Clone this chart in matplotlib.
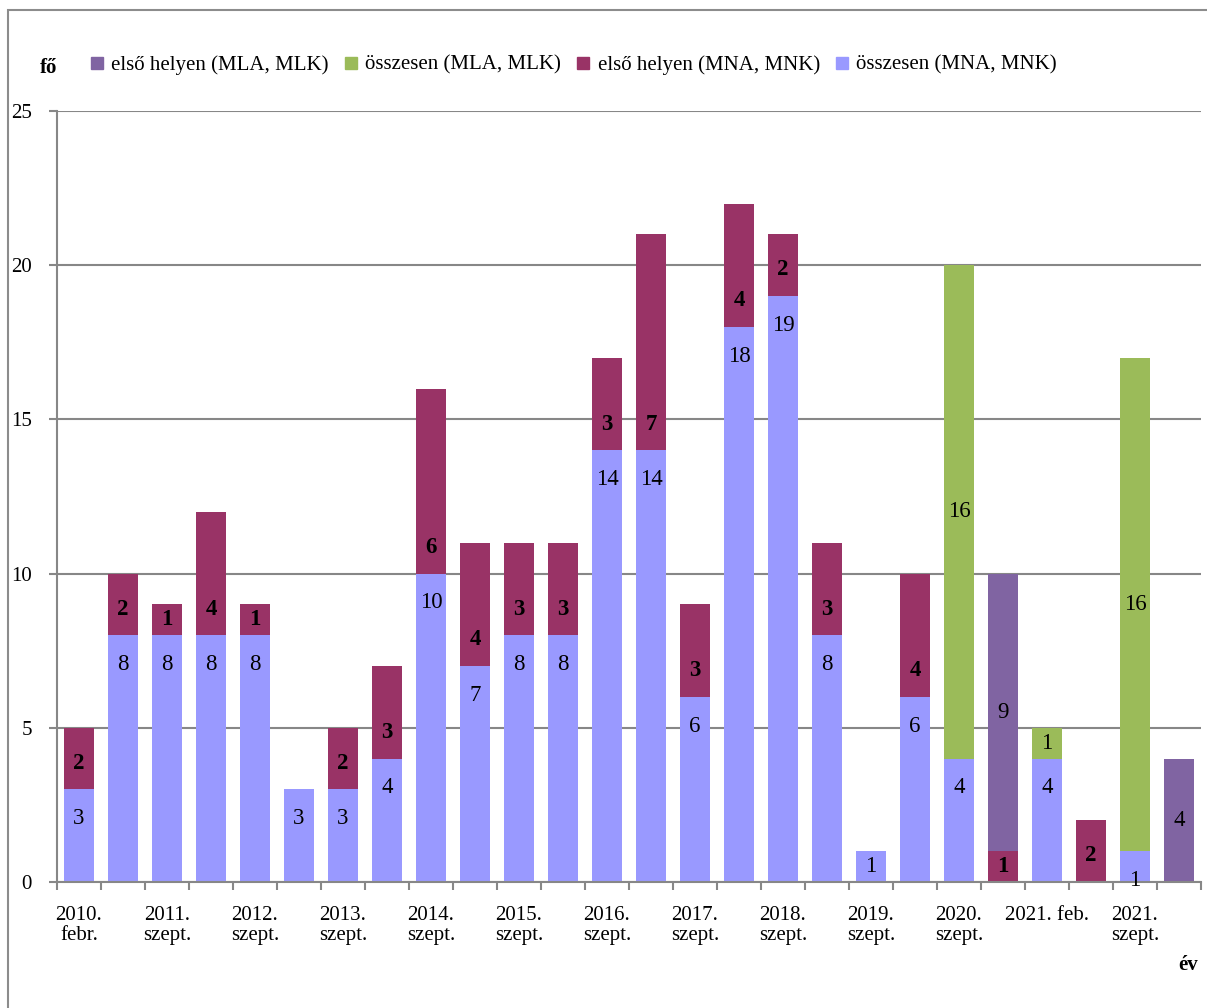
import matplotlib.pyplot as plt
from matplotlib.lines import Line2D
from matplotlib.patches import Rectangle
import numpy as np

# x categories (label only on every other bar)
tick_labels = ['2010.\nfebr.', '', '2011.\nszept.', '', '2012.\nszept.', '',
               '2013.\nszept.', '', '2014.\nszept.', '', '2015.\nszept.', '',
               '2016.\nszept.', '', '2017.\nszept.', '', '2018.\nszept.', '',
               '2019.\nszept.', '', '2020.\nszept.', '', '2021. feb.', '',
               '2021.\nszept.', '']

ossz_mna = [3, 8, 8, 8, 8, 3, 3, 4, 10, 7, 8, 8, 14, 14, 6, 18, 19, 8, 1, 6, 4, 0, 4, 0, 1, 0]
elso_mna = [2, 2, 1, 4, 1, 0, 2, 3, 6, 4, 3, 3, 3, 7, 3, 4, 2, 3, 0, 4, 0, 1, 0, 2, 0, 0]
ossz_mla = [0, 0, 0, 0, 0, 0, 0, 0, 0, 0, 0, 0, 0, 0, 0, 0, 0, 0, 0, 0, 16, 0, 1, 0, 16, 0]
elso_mla = [0, 0, 0, 0, 0, 0, 0, 0, 0, 0, 0, 0, 0, 0, 0, 0, 0, 0, 0, 0, 0, 9, 0, 0, 0, 4]

names = ['első helyen (MLA, MLK)', 'összesen (MLA, MLK)',
         'első helyen (MNA, MNK)', 'összesen (MNA, MNK)']
c_purple = '#8064A2'
c_green = '#9BBB59'
c_maroon = '#993366'
c_blue = '#9999FF'
grid_c = '#878787'

plt.rcParams['font.family'] = ['Liberation Serif', 'DejaVu Serif']
fs = 15
fs_lab = 16.5

fig = plt.figure(figsize=(12.07, 10.08), dpi=100)
ax = fig.add_axes([57 / 1207, 1 - 882 / 1008, 1144 / 1207, 771 / 1008])

x = np.arange(len(ossz_mna))
w = 0.66
blue = np.array(ossz_mna)
maroon = np.array(elso_mna)
green = np.array(ossz_mla)
purple = np.array(elso_mla)

ax.bar(x, blue, w, color=c_blue, zorder=2)
ax.bar(x, maroon, w, bottom=blue, color=c_maroon, zorder=2)
ax.bar(x, green, w, bottom=blue + maroon, color=c_green, zorder=2)
ax.bar(x, purple, w, bottom=blue + maroon + green, color=c_purple, zorder=2)

for i in x:
    b, m, g, p = blue[i], maroon[i], green[i], purple[i]
    if b:
        if b <= 1 and m + g + p == 0:
            yb = b / 2
        else:
            yb = b - 0.95
        ax.text(i, yb, str(b), ha='center', va='center', fontsize=fs_lab, zorder=3)
    if m:
        ax.text(i, b + min(0.85, m / 2), str(m), ha='center', va='center',
                fontsize=fs_lab, fontweight='bold', zorder=3)
    if g:
        ax.text(i, b + m + g / 2, str(g), ha='center', va='center', fontsize=fs_lab, zorder=3)
    if p:
        ax.text(i, b + m + g + p / 2, str(p), ha='center', va='center', fontsize=fs_lab, zorder=3)

ax.set_xlim(-0.5, len(x) - 0.5)
ax.set_ylim(0, 25)
ax.set_yticks(range(0, 26, 5))
ax.yaxis.grid(True, color=grid_c, linewidth=1.5, zorder=1)
ax.set_axisbelow(True)

ax.set_xticks(np.arange(-0.5, len(x), 1.0))
ax.set_xticklabels([])
ax.set_xticks(x, minor=True)
ax.set_xticklabels(tick_labels, minor=True, fontsize=fs, linespacing=1.1)
ax.tick_params(axis='x', which='major', length=6, width=1.5, color=grid_c, direction='out')
ax.tick_params(axis='x', which='minor', length=0, pad=17)
ax.tick_params(axis='y', length=6, width=1.5, color=grid_c, labelsize=fs, pad=12)

for s in ['top', 'right']:
    ax.spines[s].set_visible(False)
for s in ['left', 'bottom']:
    ax.spines[s].set_color(grid_c)
    ax.spines[s].set_linewidth(1.5)

handles = [Line2D([], [], marker='s', linestyle='', markersize=8, color=c)
           for c in [c_purple, c_green, c_maroon, c_blue]]
fig.legend(handles, names, loc='center left', bbox_to_anchor=(91 / 1207, 1 - 65 / 1008),
           ncol=4, frameon=False, fontsize=fs, handlelength=0.55, handletextpad=0.43,
           columnspacing=0.77, borderpad=0, borderaxespad=0)

fig.text(49 / 1207, 1 - 68 / 1008, 'fő', fontsize=fs, fontweight='bold', ha='center', va='center')
fig.text(1188 / 1207, 1 - 965 / 1008, 'év', fontsize=fs, fontweight='bold', ha='center', va='center')

# outer chart-area border (cut off at right and bottom)
fig.patches.append(Rectangle((8 / 1207, -0.1), 1.2, 1 - 10 / 1008 + 0.1,
                             transform=fig.transFigure, fill=False,
                             edgecolor='#8c8c8c', linewidth=1.5))

fig.savefig('out.png', dpi=100)
